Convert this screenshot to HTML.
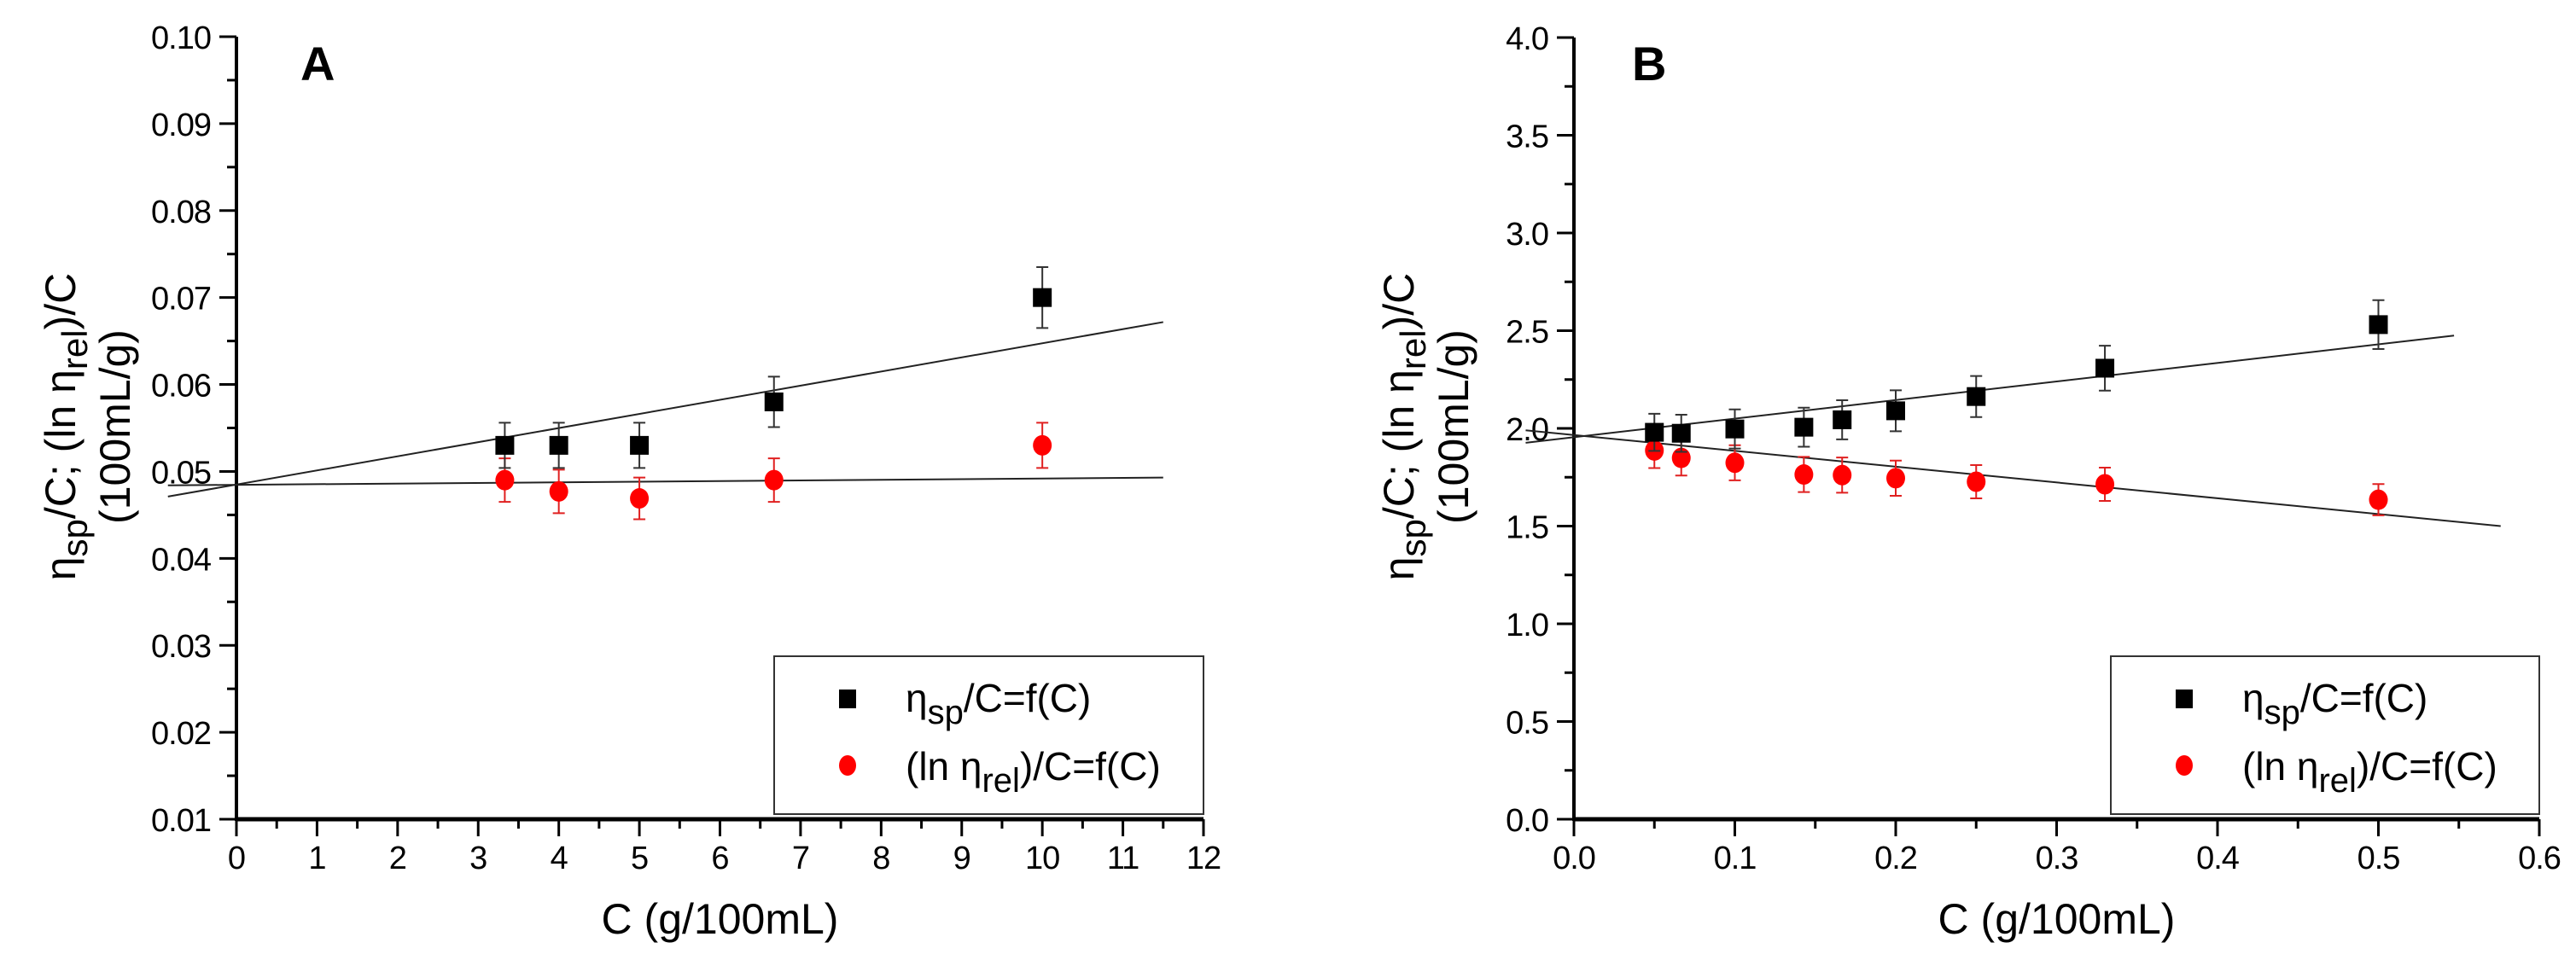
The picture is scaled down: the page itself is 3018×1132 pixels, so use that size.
<!DOCTYPE html>
<html><head><meta charset="utf-8"><style>
html,body{margin:0;padding:0;background:#fff}
svg{display:block;font-family:"Liberation Sans",sans-serif}
</style></head><body>
<svg id="chart" width="3018" height="1132" viewBox="0 0 3018 1132" xmlns="http://www.w3.org/2000/svg"></svg>
<script>
// Panel A data
const aX = [3.33, 4, 5, 6.67, 10];
const aSp = [0.0530, 0.0530, 0.0530, 0.0580, 0.0700];
const aSpErr = [0.0026, 0.0026, 0.0026, 0.0029, 0.0035];
const aLn = [0.0490, 0.0477, 0.0469, 0.0490, 0.0530];
const aLnErr = [0.0025, 0.0025, 0.0024, 0.0025, 0.0026];
const aFitSp = [0.04849, 0.001625];
const aFitLn = [0.04846, 0.0000728];
const aXTicks = [0,1,2,3,4,5,6,7,8,9,10,11,12];
const aYTicks = [0.01,0.02,0.03,0.04,0.05,0.06,0.07,0.08,0.09,0.10];
// Panel B data
const bX = [0.05, 0.0667, 0.1, 0.1429, 0.1667, 0.2, 0.25, 0.33, 0.5];
const bSp = [1.98, 1.975, 1.997, 2.006, 2.044, 2.09, 2.163, 2.308, 2.531];
const bSpErr = [0.095, 0.095, 0.1, 0.1, 0.1, 0.105, 0.105, 0.115, 0.125];
const bLn = [1.887, 1.849, 1.824, 1.764, 1.761, 1.745, 1.727, 1.714, 1.635];
const bLnErr = [0.09, 0.09, 0.09, 0.09, 0.09, 0.09, 0.085, 0.085, 0.08];
const bFitSp = [1.955, 0.95];
const bFitLn = [1.966, -0.809];
const bXTicks = [0.0,0.1,0.2,0.3,0.4,0.5,0.6];
const bYTicks = [0.0,0.5,1.0,1.5,2.0,2.5,3.0,3.5,4.0];

const NS="http://www.w3.org/2000/svg";
const svg=document.getElementById('chart');
function mk(tag,attrs,parent,text){const e=document.createElementNS(NS,tag);for(const k in attrs)e.setAttribute(k,attrs[k]);if(text!==undefined)e.textContent=text;(parent||svg).appendChild(e);return e;}

function panel(o){
  const g=mk('g',{});
  
  
  const sx=v=>o.x0+(v-o.xmin)/(o.xmax-o.xmin)*(o.x1-o.x0);
  const sy=v=>o.y0-(v-o.ymin)/(o.ymax-o.ymin)*(o.y0-o.y1);
  const ax=mk('line',{x1:o.x0,y1:o.y0,x2:o.x1,y2:o.y0,stroke:'#000','stroke-width':5},g);
  
  
  const ay=mk('line',{x1:o.x0,y1:o.y0+2,x2:o.x0,y2:o.y1,stroke:'#000','stroke-width':4},g);
  
  
  o.xt.forEach((v,i)=>{
    const x=sx(v);
    mk('line',{x1:x,y1:o.y0,x2:x,y2:o.y0+20,stroke:'#000','stroke-width':3},g);
    if(i<o.xt.length-1){const xm=sx(v+(o.xt[1]-o.xt[0])/2);mk('line',{x1:xm,y1:o.y0,x2:xm,y2:o.y0+11,stroke:'#000','stroke-width':3},g);}
    const t=mk('text',{x:x,y:o.y0+58,'text-anchor':'middle','font-size':38,'letter-spacing':-1},g,o.xf(v));
    
    
  });
  o.yt.forEach((v,i)=>{
    const y=sy(v);
    mk('line',{x1:o.x0,y1:y,x2:o.x0-20,y2:y,stroke:'#000','stroke-width':3},g);
    if(i<o.yt.length-1){const ym=sy(v+(o.yt[1]-o.yt[0])/2);mk('line',{x1:o.x0,y1:ym,x2:o.x0-11,y2:ym,stroke:'#000','stroke-width':3},g);}
    const t=mk('text',{x:o.x0-30,y:y+14,'text-anchor':'end','font-size':38,'letter-spacing':-1},g,o.yf(v));
    
    
  });
  [[o.fitSp,'fit-line-sp'],[o.fitLn,'fit-line-ln']].forEach(([f,n],k)=>{
    const xa=o.lineFrom, xb=o.lineTo[k];
    const l=mk('line',{x1:sx(xa),y1:sy(f[0]+f[1]*xa),x2:sx(xb),y2:sy(f[0]+f[1]*xb),stroke:'#222','stroke-width':2},g);
    
    
  });
  o.xs.forEach((v,i)=>{
    const x=sx(v),y=sy(o.ln[i]),yt=sy(o.ln[i]+o.lnErr[i]),yb=sy(o.ln[i]-o.lnErr[i]);
    mk('path',{d:`M${x},${yt}V${yb}M${x-7},${yt}H${x+7}M${x-7},${yb}H${x+7}`,stroke:'#e02020','stroke-width':2,fill:'none'},g);
    const c=mk('ellipse',{cx:x,cy:y,rx:11,ry:12,fill:'#f00'},g);
    
    
  });
  o.xs.forEach((v,i)=>{
    const x=sx(v),y=sy(o.sp[i]),yt=sy(o.sp[i]+o.spErr[i]),yb=sy(o.sp[i]-o.spErr[i]);
    mk('path',{d:`M${x},${yt}V${yb}M${x-7},${yt}H${x+7}M${x-7},${yb}H${x+7}`,stroke:'#333','stroke-width':2,fill:'none'},g);
    const r=mk('rect',{x:x-11,y:y-11,width:22,height:22,fill:'#000'},g);
    
    
  });
  const lg=mk('g',{},g);
  
  
  mk('rect',{x:o.lx,y:769,width:o.x1-o.lx,height:185,fill:'#fff',stroke:'#333','stroke-width':2},lg);
  const mx=o.lx+86;
  mk('rect',{x:mx-10,y:808,width:20,height:22,fill:'#000'},lg);
  mk('ellipse',{cx:mx,cy:897,rx:10,ry:12,fill:'#f00'},lg);
  const t1=mk('text',{x:mx+68,y:834,'font-size':46},lg);
  
  
  t1.innerHTML='η<tspan dy="14" font-size="40">sp</tspan><tspan dy="-14">/C=f(C)</tspan>';
  const t2=mk('text',{x:mx+68,y:914,'font-size':46},lg);
  
  
  t2.innerHTML='(ln η<tspan dy="14" font-size="40">rel</tspan><tspan dy="-14">)/C=f(C)</tspan>';
  const xt=mk('text',{x:(o.x0+o.x1)/2,y:1094,'text-anchor':'middle','font-size':50},g,'C (g/100mL)');
  
  
  const yt=mk('text',{transform:`translate(${o.ytx},500) rotate(-90)`,'text-anchor':'middle','font-size':50},g);
  
  
  yt.innerHTML=`<tspan x="0" y="0">η<tspan dy="14" font-size="42">sp</tspan><tspan dy="-14">/C; (ln η</tspan><tspan dy="14" font-size="42">rel</tspan><tspan dy="-14">)/C</tspan></tspan><tspan x="0" y="64">(100mL/g)</tspan>`;
  const pl=mk('text',{x:o.lblx,y:94,'font-size':56,'font-weight':'bold'},g,o.label);
  
  
}

panel({name:'panel-a',label:'A',lblx:352,x0:277,x1:1410,y0:960,y1:43,xmin:0,xmax:12,ymin:0.01,ymax:0.10,
  xt:aXTicks,yt:aYTicks,xf:v=>String(v),yf:v=>v.toFixed(2),
  xs:aX,sp:aSp,spErr:aSpErr,ln:aLn,lnErr:aLnErr,fitSp:aFitSp,fitLn:aFitLn,
  lineFrom:-0.85,lineTo:[11.5,11.5],lx:907,ytx:88});
panel({name:'panel-b',label:'B',lblx:1912,x0:1844,x1:2975,y0:960,y1:44,xmin:0,xmax:0.6,ymin:0,ymax:4,
  xt:bXTicks,yt:bYTicks,xf:v=>v.toFixed(1),yf:v=>v.toFixed(1),
  xs:bX,sp:bSp,spErr:bSpErr,ln:bLn,lnErr:bLnErr,fitSp:bFitSp,fitLn:bFitLn,
  lineFrom:-0.03,lineTo:[0.547,0.576],lx:2473,ytx:1656});
</script>
</body></html>
